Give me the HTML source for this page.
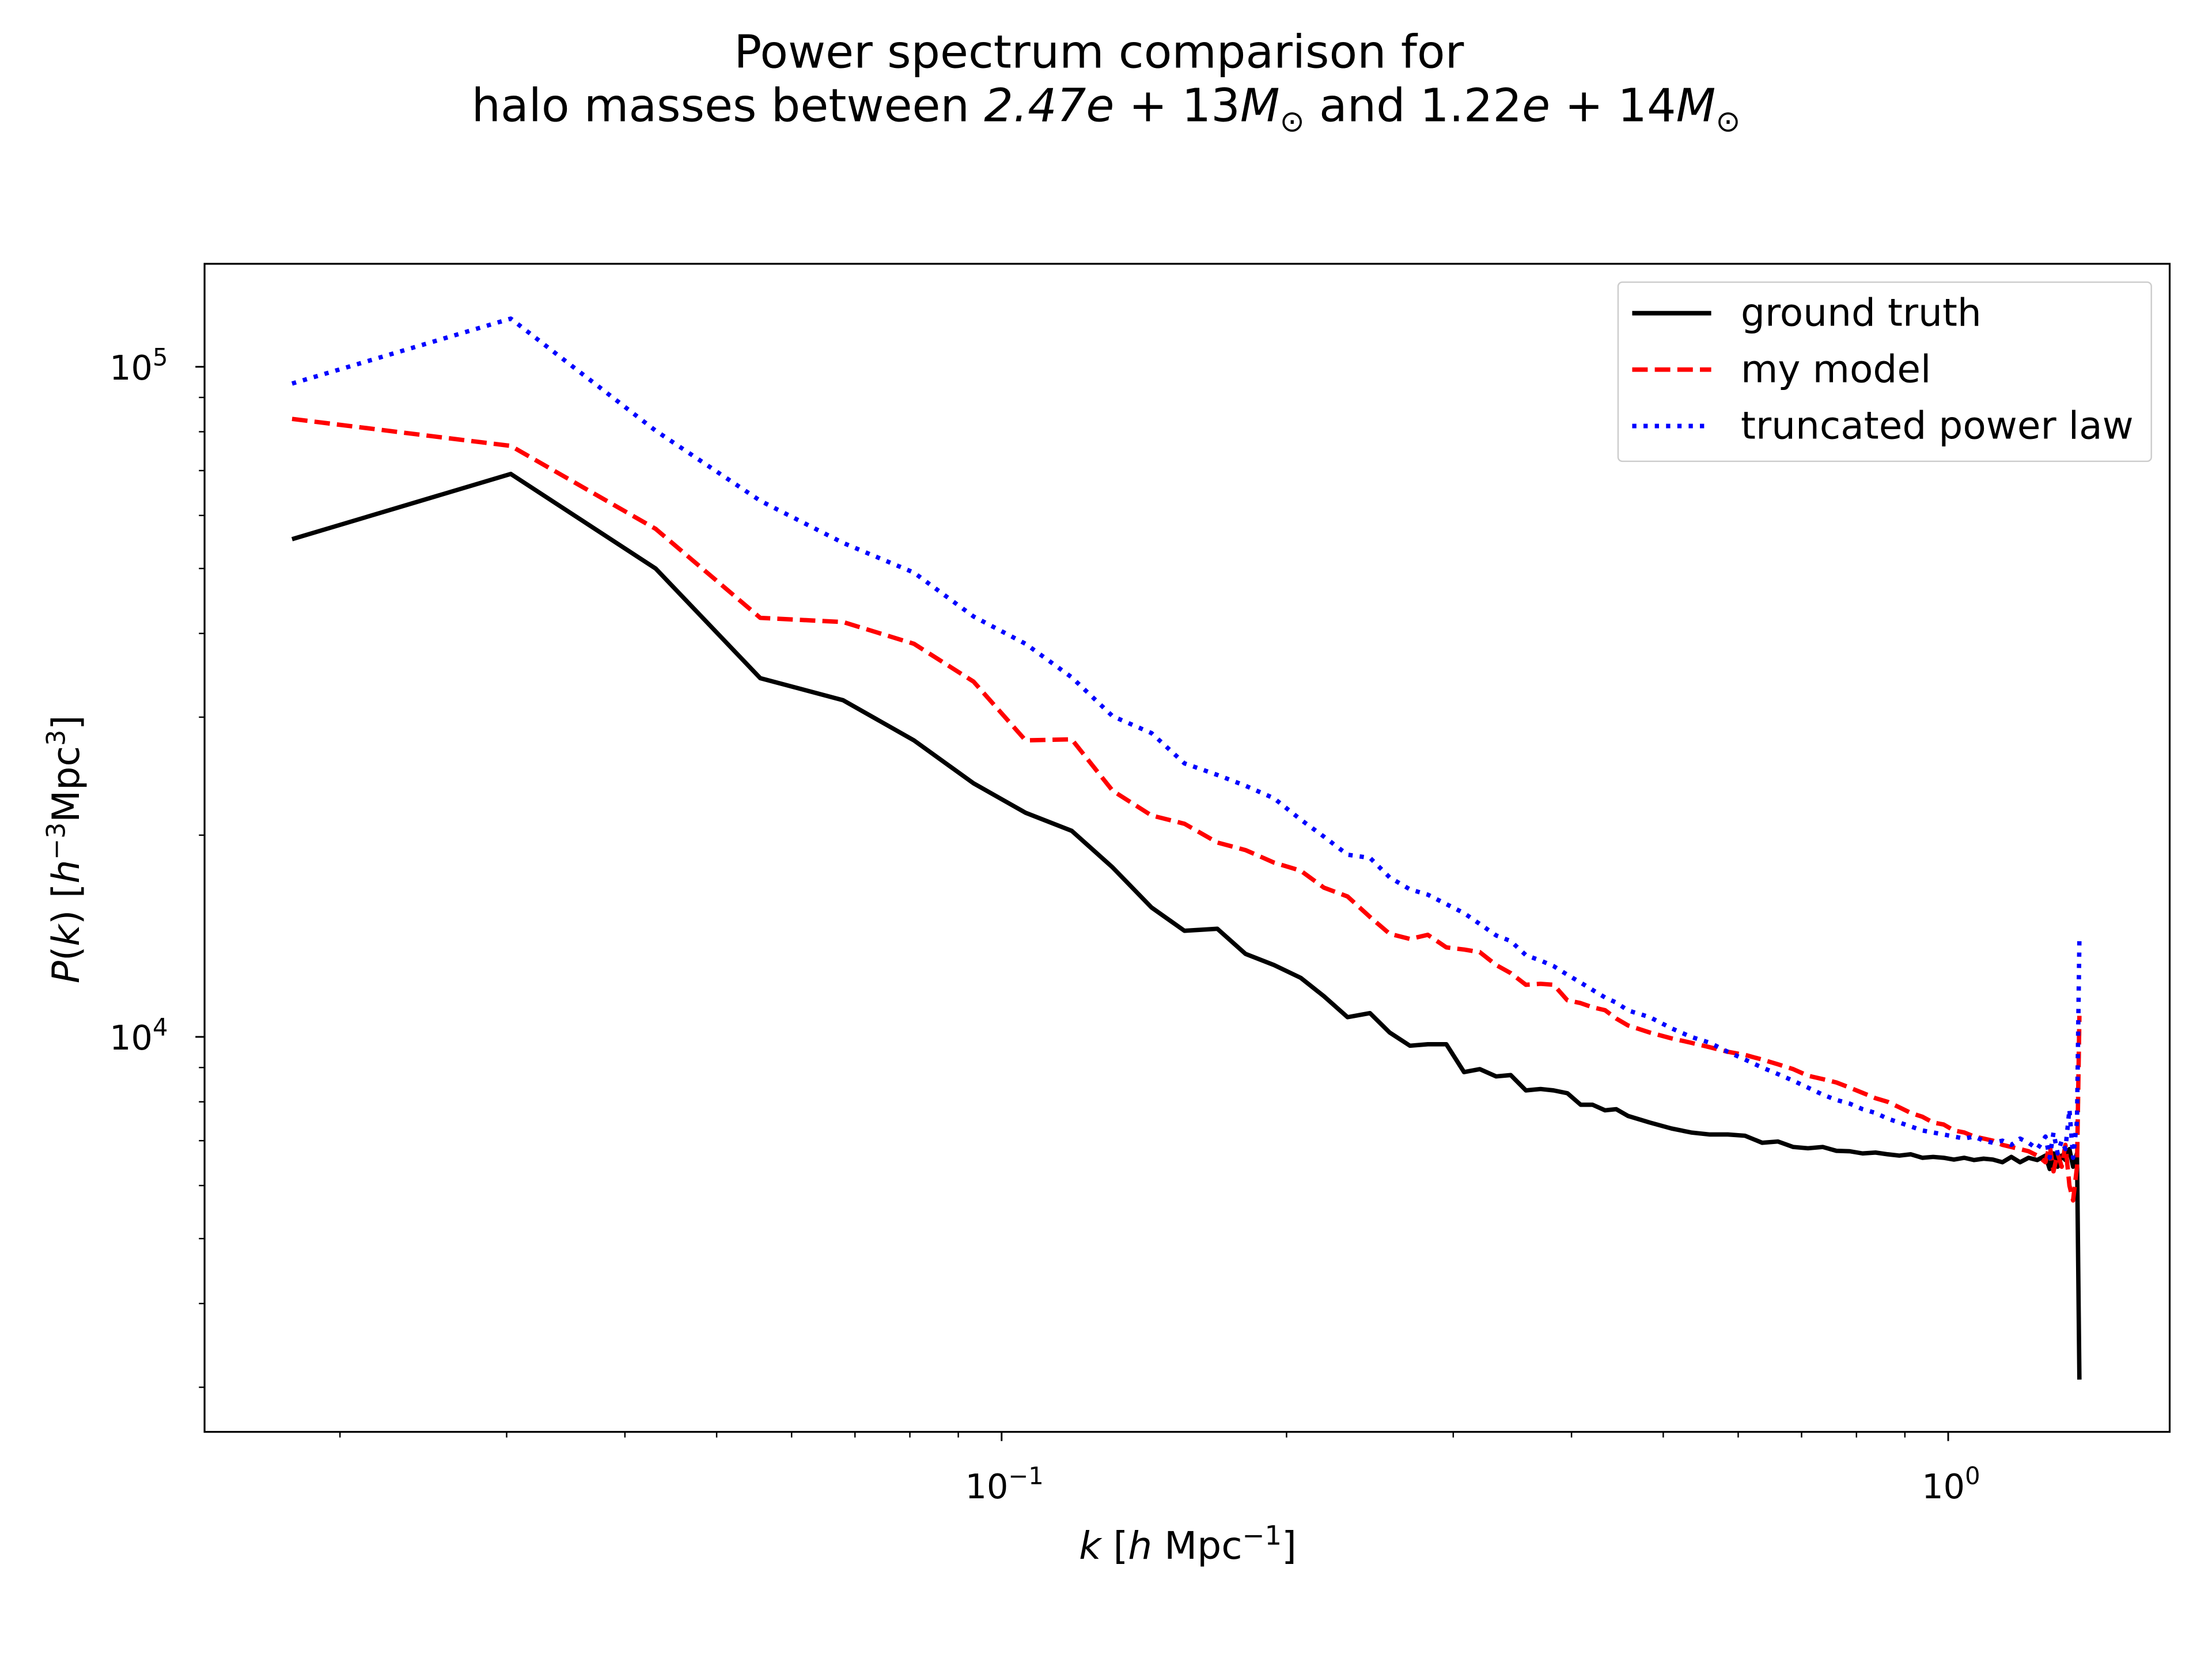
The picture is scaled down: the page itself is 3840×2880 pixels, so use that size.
<!DOCTYPE html>
<html><head><meta charset="utf-8"><style>
html,body{margin:0;padding:0;background:#fff;}
svg{display:block;font-family:"DejaVu Sans","Liberation Sans",sans-serif;}
</style></head><body>
<svg id="chart" width="3840" height="2880" viewBox="0 0 1568 1176" xmlns="http://www.w3.org/2000/svg">
<rect x="0" y="0" width="1568" height="1176" fill="#fff"/>
<g font-size="32.5" text-anchor="middle" fill="#000">
<text x="779" y="48">Power spectrum comparison for</text>
<text x="784" y="86">halo masses between <tspan font-style="italic">2.47e</tspan> + 13<tspan font-style="italic">M</tspan><tspan font-size="21" dy="7">⊙</tspan><tspan dy="-7"> and </tspan><tspan>1.22</tspan><tspan font-style="italic">e</tspan> + 14<tspan font-style="italic">M</tspan><tspan font-size="21" dy="7">⊙</tspan></text>
</g>
<g id="ticks"></g>
<g id="series"></g>
<rect x="145" y="187" width="1393" height="828" fill="none" stroke="#000" stroke-width="1.3"/>
<g><text x="842" y="1105" font-size="27" text-anchor="middle"><tspan font-style="italic">k</tspan> [<tspan font-style="italic">h</tspan> Mpc<tspan font-size="19" dy="-10">−1</tspan><tspan dy="10">]</tspan></text></g>
<g><text transform="translate(56,602) rotate(-90)" font-size="26.5" text-anchor="middle"><tspan font-style="italic">P</tspan>(<tspan font-style="italic">k</tspan>) [<tspan font-style="italic">h</tspan><tspan font-size="18" dy="-10">−3</tspan><tspan dy="10">Mpc</tspan><tspan font-size="18" dy="-10">3</tspan><tspan dy="10">]</tspan></text></g>
<g>
<rect x="1147" y="200" width="378" height="127" rx="3" fill="#fff" fill-opacity="0.8" stroke="#ccc" stroke-width="1"/>
<g><line x1="1157" y1="222" x2="1213" y2="222" stroke="#000" stroke-width="3.2"/><text x="1234" y="231" font-size="27">ground truth</text></g>
<g><line x1="1157" y1="262" x2="1213" y2="262" stroke="red" stroke-width="3.2" stroke-dasharray="11,5"/><text x="1234" y="271" font-size="27">my model</text></g>
<g><line x1="1157" y1="302" x2="1213" y2="302" stroke="blue" stroke-width="3.2" stroke-dasharray="3,5"/><text x="1234" y="311" font-size="27">truncated power law</text></g>
</g>
</svg>
<script>
const kValues=[0.0178,0.0303,0.0431,0.0556,0.068,0.0808,0.0934,0.106,0.1186,0.131,0.144,0.156,0.169,0.181,0.194,0.207,0.219,0.232,0.245,0.257,0.27,0.282,0.295,0.308,0.32,0.333,0.345,0.358,0.371,0.383,0.396,0.409,0.421,0.434,0.446,0.459,
0.484,0.51,0.535,0.56,0.585,0.61,0.636,0.661,0.686,0.711,0.737,0.762,0.787,0.812,0.838,0.863,0.888,0.913,0.939,0.964,0.989,1.014,1.04,1.065,1.09,1.115,1.141,1.166,1.191,1.216,1.242,1.267,1.28,1.292,1.305,1.318,1.33,1.343,1.355,1.368,1.376];
const groundTruth=[55300,69200,50000,34300,31800,27700,23900,21600,20300,17900,15600,14400,14500,13300,12800,12250,11500,10700,10850,10150,9700,9750,9750,8860,8950,8730,8770,8320,8360,8320,8240,7920,7920,7770,7800,7620,
7450,7300,7200,7150,7150,7120,6950,6980,6850,6820,6850,6760,6750,6700,6720,6680,6650,6680,6600,6620,6600,6560,6600,6550,6580,6560,6500,6620,6500,6600,6550,6650,6350,6700,6400,6650,6550,6800,6400,6700,3080];
const myModel=[83600,76200,57300,42200,41600,38600,33900,27700,27800,23300,21400,20800,19500,19000,18200,17700,16700,16200,15100,14250,14000,14200,13600,13500,13380,12800,12450,11960,12000,11960,11340,11230,11070,10960,10650,10400,
10150,9950,9800,9650,9500,9400,9250,9100,8950,8750,8650,8550,8400,8250,8100,8000,7850,7700,7600,7450,7400,7250,7200,7100,7050,7000,6900,6850,6800,6750,6650,6500,6900,6300,6700,6400,6900,6000,5700,6400,10750];
const truncatedPowerLaw=[94400,118000,80300,63100,54600,49300,42400,38600,34400,30100,28400,25600,24600,23700,22700,21100,19900,18700,18500,17300,16600,16300,15780,15300,14740,14170,13900,13240,13000,12750,12380,12050,11750,11450,11250,10950,
10700,10300,10000,9800,9500,9250,9000,8800,8600,8400,8200,8050,7950,7800,7700,7550,7450,7350,7250,7200,7150,7100,7050,7100,7000,6950,7000,6900,7050,6950,6800,7100,6600,7200,6700,7000,6800,7800,6600,7500,14030];
const xMajorTicks=[0.1,1];
const xMajorLabels=[["10","−1"],["10","0"]];
const xMinorTicks=[0.02,0.03,0.04,0.05,0.06,0.07,0.08,0.09,0.2,0.3,0.4,0.5,0.6,0.7,0.8,0.9];
const yMajorTicks=[10000,100000];
const yMajorLabels=[["10","4"],["10","5"]];
const yMinorTicks=[3000,4000,5000,6000,7000,8000,9000,20000,30000,40000,50000,60000,70000,80000,90000];

const NS="http://www.w3.org/2000/svg";
function xs(k){return 1381+671*Math.log10(k);}
function ys(p){return 735-475*(Math.log10(p)-4);}
function mk(tag,attrs,parent){const e=document.createElementNS(NS,tag);for(const a in attrs)e.setAttribute(a,attrs[a]);parent.appendChild(e);return e;}
const T=document.getElementById('ticks');
xMajorTicks.forEach((v,i)=>{
  const l=mk('line',{x1:xs(v),x2:xs(v),y1:1015,y2:1021.5,stroke:'#000','stroke-width':1.2},T);
  
  
  const t=mk('text',{x:xs(v)+2,y:1062,'font-size':24,'text-anchor':'middle'},T);
  
  
  t.innerHTML=xMajorLabels[i][0]+'<tspan font-size="17" dy="-10">'+xMajorLabels[i][1]+'</tspan>';
});
xMinorTicks.forEach(v=>{
  const l=mk('line',{x1:xs(v),x2:xs(v),y1:1015,y2:1019,stroke:'#000','stroke-width':1},T);
  
  
});
yMajorTicks.forEach((v,i)=>{
  const l=mk('line',{x1:138.5,x2:145,y1:ys(v),y2:ys(v),stroke:'#000','stroke-width':1.2},T);
  
  
  const t=mk('text',{x:119,y:ys(v)+9,'font-size':24,'text-anchor':'end'},T);
  
  
  t.innerHTML=yMajorLabels[i][0]+'<tspan font-size="17" dy="-10">'+yMajorLabels[i][1]+'</tspan>';
});
yMinorTicks.forEach(v=>{
  const l=mk('line',{x1:141,x2:145,y1:ys(v),y2:ys(v),stroke:'#000','stroke-width':1},T);
  
  
});
const S=document.getElementById('series');
function line(vals,color,dash,name){
  const d=vals.map((v,i)=>(i?'L':'M')+xs(kValues[i]).toFixed(2)+','+ys(v).toFixed(2)).join(' ');
  const p=mk('path',{d:d,fill:'none',stroke:color,'stroke-width':3.1,'stroke-linejoin':'round'},S);
  if(dash)p.setAttribute('stroke-dasharray',dash);
  
  
}
line(groundTruth,'#000',null,'ground-truth-line');
line(myModel,'red','11,5','my-model-line');
line(truncatedPowerLaw,'blue','3,5','truncated-power-law-line');
</script>
</body></html>
